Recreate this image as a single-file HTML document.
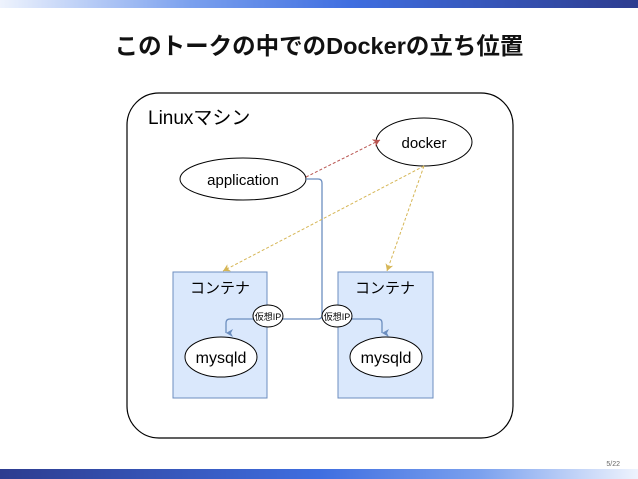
<!DOCTYPE html>
<html><head><meta charset="utf-8"><style>
body{margin:0;width:638px;height:479px;overflow:hidden;background:#fff;font-family:"Liberation Sans","Noto Sans CJK JP",sans-serif;}
.top{position:absolute;left:0;top:0;width:638px;height:8px;background:linear-gradient(90deg,#eef3fd,#7aa0ee 30%,#3f6ee0 55%,#2d3c8f)}
.bot{position:absolute;left:0;top:469px;width:638px;height:10px;background:linear-gradient(90deg,#2d3c8f,#3f6ee0 50%,#7aa0ee 75%,#eef3fd)}
</style></head><body>
<div class="top"></div><div class="bot"></div>
<svg width="638" height="479" style="position:absolute;left:0;top:0" font-family="Liberation Sans, Noto Sans CJK JP, sans-serif">
<defs>
<marker id="ab" markerWidth="8" markerHeight="8" refX="4" refY="7" orient="auto-start-reverse" markerUnits="userSpaceOnUse"><path d="M0,0 L4,7 L8,0 L4,2z" fill="#6c8ebf"/></marker>
<marker id="ay" markerWidth="8" markerHeight="8" refX="7" refY="4" orient="auto" markerUnits="userSpaceOnUse"><path d="M0,0 L7,4 L0,8 L2,4z" fill="#d6b656"/></marker>
<marker id="ar" markerWidth="8" markerHeight="8" refX="7" refY="4" orient="auto" markerUnits="userSpaceOnUse"><path d="M0,0 L7,4 L0,8 L2,4z" fill="#b85450"/></marker>
</defs>
<text x="319" y="54" text-anchor="middle" font-size="23.5" font-weight="bold" fill="#111">このトークの中でのDockerの立ち位置</text>
<rect x="127" y="93" width="386" height="345" rx="32" fill="#fff" stroke="#000" stroke-width="1.2"/>
<text x="148" y="124" font-size="19" fill="#000">Linuxマシン</text>
<ellipse cx="424" cy="142" rx="48" ry="24" fill="#fff" stroke="#000"/>
<text x="424" y="148" text-anchor="middle" font-size="15">docker</text>
<ellipse cx="243" cy="179" rx="63" ry="21" fill="#fff" stroke="#000"/>
<text x="243" y="185" text-anchor="middle" font-size="15">application</text>
<rect x="173" y="272" width="94" height="126" fill="#dae8fc" stroke="#6c8ebf"/>
<rect x="338" y="272" width="95" height="126" fill="#dae8fc" stroke="#6c8ebf"/>
<text x="220" y="293" text-anchor="middle" font-size="15">コンテナ</text>
<text x="385" y="293" text-anchor="middle" font-size="15">コンテナ</text>
<ellipse cx="221" cy="357" rx="36" ry="20" fill="#fff" stroke="#000"/>
<ellipse cx="386" cy="357" rx="36" ry="20" fill="#fff" stroke="#000"/>
<text x="221" y="363" text-anchor="middle" font-size="16">mysqld</text>
<text x="386" y="363" text-anchor="middle" font-size="16">mysqld</text>
<path d="M306,179 H318 Q322,179 322,183 V315 Q322,319 318,319 H230 Q226,319 226,323 V333" fill="none" stroke="#6c8ebf" stroke-width="1.3" marker-end="url(#ab)"/>
<path d="M322,315 Q322,319 326,319 H378 Q382,319 382,323 V333" fill="none" stroke="#6c8ebf" stroke-width="1.3" marker-end="url(#ab)"/>
<line x1="306" y1="177" x2="380" y2="140" stroke="#b85450" stroke-dasharray="3,2" marker-end="url(#ar)"/>
<line x1="424" y1="166" x2="223" y2="271" stroke="#d6b656" stroke-dasharray="3,2" marker-end="url(#ay)"/>
<line x1="424" y1="166" x2="387" y2="271" stroke="#d6b656" stroke-dasharray="3,2" marker-end="url(#ay)"/>
<ellipse cx="268" cy="316" rx="15" ry="11" fill="#fff" stroke="#000"/>
<ellipse cx="337" cy="316" rx="15" ry="11" fill="#fff" stroke="#000"/>
<text x="268" y="320" text-anchor="middle" font-size="9">仮想IP</text>
<text x="337" y="320" text-anchor="middle" font-size="9">仮想IP</text>
<text x="620" y="466" text-anchor="end" font-size="7" fill="#666">5/22</text>
</svg>
</body></html>
